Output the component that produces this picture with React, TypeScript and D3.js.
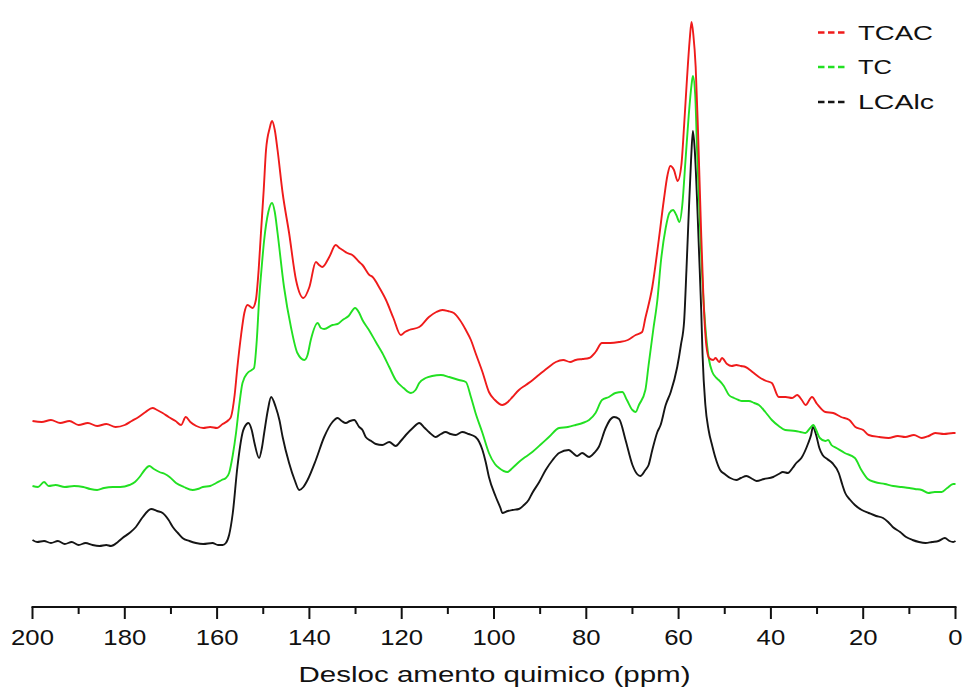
import React from "react";
import * as d3 from "d3";

// 13C CP/MAS NMR spectra, stacked: [chemical shift (ppm), intensity (a.u.)]
const tcac: [number, number][] = [
  [200,186],[198,185],[196,187],[194,184],[192,186],[190,182],[188,184],[186,181],[184,183],[182,180],[180,182],[178.5,186],[177,190],[175.5,195],[174,199],[173,197],[171.8,194],[170.5,190],[169,186],[167.8,182],[166.8,190],[165.8,185],[164.5,181],[163,179],[161.5,180],[160,179],[158.8,183],[157.5,187],[157,190],[156.2,212],[155.6,240],[154.8,272],[154.1,294],[153.4,302],[152.3,299],[151.6,307],[151,337],[150.5,374],[149.9,417],[149.4,457],[148.6,479],[148.1,486],[147.5,477],[146.9,457],[145.8,414],[144.4,374],[142.9,327],[141.3,309],[140,320],[138.6,345],[137.9,342],[137.2,340],[135.7,350],[134.3,362],[133.5,359],[132.8,357],[131.8,354],[130.7,352],[129.2,345],[128.5,342],[127,332],[126.3,330],[124.8,319],[123.4,307],[121.8,289],[120.2,272],[119.3,275],[118.4,277],[116.2,280],[114.1,290],[112.5,295],[111.2,297],[110,296],[108.7,294],[107.4,287],[106.1,277],[105,267],[104,254],[102.5,235],[101.1,215],[99.8,207],[98.2,202],[97,205],[96,210],[94.6,217],[93.1,222],[91.6,227],[90.3,232],[88.4,239],[86.6,245],[85,247],[83.5,245],[82.3,247],[80.8,248],[79.4,249],[78,255],[76.6,264],[74.8,264],[72.9,265],[71,267],[69.3,272],[67.9,275],[67.2,289],[65.7,320],[64.3,367],[63.2,407],[62.4,432],[61.8,441],[61,437],[60.2,426],[59.4,442],[58.8,482],[58.2,527],[57.6,567],[57.2,585],[56.8,572],[56.3,540],[55.8,477],[55.2,387],[54.6,307],[54,262],[53.4,249],[52.5,247],[52,249],[51.2,245],[50.6,249],[49.5,243],[48.5,241],[47.5,242],[46.5,241],[45.5,240],[44,235],[42.6,230],[41,226],[39.8,224],[38.3,210],[36.8,210],[35.4,209],[34.3,212],[33.3,207],[32.5,202],[31.1,210],[30,203],[28.2,195],[26.5,194],[24.8,190],[23,187],[21.7,180],[20,177],[18.8,172],[16.5,170],[14.5,169],[12.5,171],[10.9,170],[9,172],[7.3,169],[5.8,171],[4.4,174],[2.5,173],[0.5,174],[0,174],
];

const tc: [number, number][] = [
  [200,121],[198.8,120],[197.5,125],[196.5,121],[195,122],[193,120],[191,121],[189,120],[187.5,118],[186,117],[184.5,119],[182.6,120],[181,120],[179,122],[177.8,125],[176.8,130],[175.7,137],[174.7,141],[173.7,138],[172.5,135],[171.3,133],[170.3,130],[168.9,124],[167.2,120],[165.3,117],[164.2,118],[163.1,120],[161.5,121],[160.2,124],[159,127],[158.1,129],[157.4,134],[156.6,152],[155.9,174],[155.2,202],[154.5,224],[153.4,234],[152.5,237],[152,239],[151.4,267],[150.9,307],[150.3,342],[149.8,367],[148.9,395],[148.1,404],[147.5,395],[146.9,374],[145.5,320],[144,280],[142.6,254],[141.1,247],[140.4,252],[139.7,267],[138.2,284],[137.5,279],[136.8,278],[135,282],[133.9,283],[132.8,287],[131.5,291],[130.1,299],[129.2,294],[128.5,287],[127.1,277],[125.6,265],[124.2,254],[122.7,240],[121.3,227],[119.6,219],[118,214],[117,217],[116.2,224],[114.8,229],[113.4,231],[111.5,232],[109.7,230],[107.6,227],[106.1,225],[105,210],[104,194],[102.5,174],[101.1,154],[99.8,143],[98.9,139],[97.1,135],[96,139],[94.6,145],[93.2,150],[91.7,155],[90,162],[88.1,170],[85.9,179],[84,180],[82.3,182],[80.8,184],[79.4,187],[78,194],[76.6,207],[75.1,210],[73.7,214],[72.2,215],[71.2,207],[70,197],[69.3,195],[68.6,202],[67.2,217],[66.5,242],[65.5,277],[64.6,307],[63.8,347],[62.8,379],[62,394],[61.2,397],[60.5,392],[59.8,385],[59.2,402],[58.5,447],[57.8,492],[57.2,522],[56.9,531],[56.4,512],[56,457],[55.3,374],[54.8,322],[54.2,280],[53.4,247],[52.7,235],[51.8,229],[51.3,227],[50.2,221],[49.1,212],[48,209],[47,207],[46.3,206],[44.8,206],[43.6,204],[42.6,202],[41.2,195],[39.8,187],[38.3,181],[36.9,177],[34.7,176],[33.6,175],[32.5,174],[31.5,179],[30.8,182],[30.2,177],[29.4,169],[28.2,166],[27.6,167],[26.9,162],[25.8,159],[24,154],[21.8,149],[20.4,137],[19,128],[17.5,125],[15.3,123],[13.5,121],[11.7,120],[10,119],[8.8,118],[7.3,117],[5.9,114],[4.5,115],[3,115],[1.8,119],[0.5,123],[0,123],
];

const lcalc: [number, number][] = [
  [200,67],[199,65],[197.5,66],[196,64],[194.5,66],[193,63],[191.5,65],[190,62],[188.5,64],[187,62],[185.5,61],[184,62],[183,61],[181.5,65],[180.5,69],[179,74],[177.6,80],[176.1,90],[175,96],[174.3,98],[173,96],[171.8,94],[170.5,87],[169.6,80],[168.5,74],[167.5,69],[166,66],[164.6,64],[163,63],[161,64],[159.8,62],[158.8,62],[158.1,64],[157.4,72],[156.6,94],[155.6,140],[154.5,174],[153.6,183],[153.2,184],[152.5,177],[151.9,164],[150.9,149],[150.3,159],[149.8,174],[149,197],[148.3,210],[147.3,200],[146.5,187],[145.8,170],[144.4,144],[143.2,127],[142.2,117],[141.3,120],[140.4,127],[138.6,147],[136.8,170],[135,185],[133.9,189],[133,186],[132.1,184],[131.2,186],[130.3,187],[129.2,180],[128.5,177],[127.8,170],[126.6,166],[125.6,163],[124.2,162],[122.7,165],[121.3,161],[120.2,166],[119.1,172],[117.6,179],[116.2,184],[115,179],[114.1,175],[112.6,170],[111.5,173],[110.5,175],[109.4,173],[108.3,172],[106.9,175],[105.5,173],[104,170],[103.2,165],[102.5,157],[101.8,145],[101.1,130],[99.6,110],[98.6,99],[98.2,94],[97,96],[96,97],[94.6,98],[93.5,102],[92.5,107],[91.7,114],[90.2,125],[88.8,137],[87.3,147],[85.9,154],[83.8,157],[82.9,154],[82,151],[80.9,154],[79.4,150],[78.3,154],[77.3,160],[75.8,179],[74.7,188],[74,190],[72.9,188],[71.5,167],[70,142],[69,133],[68.3,131],[67.2,137],[66.5,142],[65.7,157],[64.6,175],[63.9,182],[62.8,202],[61.7,215],[60.3,240],[59.5,262],[58.8,286],[58.3,337],[57.8,394],[57.3,447],[56.9,476],[56.5,457],[56,407],[55.6,358],[55.1,297],[54.8,251],[54.2,202],[53.5,177],[52.7,161],[52,149],[51,137],[50,133],[48.8,129],[47.5,127],[46.5,129],[45.3,131],[44,128],[43.1,126],[41.5,128],[39.5,130],[38.3,133],[37.4,135],[36.3,134],[35.3,139],[34.5,144],[33.4,149],[31.9,164],[31.3,172],[30.9,180],[30.2,172],[29.5,159],[28.8,152],[27.8,148],[26.7,144],[25.3,134],[24.5,122],[23.9,114],[22.8,107],[21.8,102],[20.3,97],[18.8,94],[17.2,91],[15.7,89],[14.6,85],[13.6,80],[12,75],[10.7,70],[9.3,67],[7.9,65],[6.5,64],[5.1,65],[3.7,66],[2.3,69],[1.3,66],[0.5,65],[0,66],
];

const seriesNames = ["TCAC", "TC", "LCAlc"];
const seriesColors = ["#ef1b1b", "#22e022", "#151515"];
const majorTicks = [200, 180, 160, 140, 120, 100, 80, 60, 40, 20, 0];
const minorTicks = [190, 170, 150, 130, 110, 90, 70, 50, 30, 10];
const xTitle = "Desloc amento quimico (ppm)";

const W = 964;
const H = 688;
const FONT = "'Liberation Sans', Arial, Helvetica, sans-serif";

export default function App() {
  const x = d3.scaleLinear().domain([200, 0]).range([32.5, 955.5]);
  const y = d3.scaleLinear().domain([0, 600]).range([607, 7]);
  const axisY = y(0);

  const line = d3
    .line<[number, number]>()
    .x((d) => x(d[0]))
    .y((d) => y(d[1]))
    .curve(d3.curveMonotoneX);

  const data = [tcac, tc, lcalc];
  const legendBaselines = [39.5, 74, 109];
  const legendWidths = [75, 34, 76];

  return (
    <svg
      width={W}
      height={H}
      viewBox={`0 0 ${W} ${H}`}
      style={{ position: "fixed", left: 0, top: 0, background: "#fff" }}
    >
      <rect width={W} height={H} fill="#fff" />

      {/* spectra, drawn bottom trace first */}
      {data
        .map((d, i) => (
          <path
            key={seriesNames[i]}
            d={line(d) || ""}
            fill="none"
            stroke={seriesColors[i]}
            strokeWidth={1.9}
            strokeLinejoin="round"
          />
        ))
        .reverse()}

      {/* x axis */}
      <line x1={x(200) - 1} x2={x(0) + 1} y1={axisY} y2={axisY} stroke="#111" strokeWidth={2} />
      {majorTicks.map((t) => (
        <line key={`M${t}`} x1={x(t)} x2={x(t)} y1={axisY} y2={axisY + 12} stroke="#111" strokeWidth={2} />
      ))}
      {minorTicks.map((t) => (
        <line key={`m${t}`} x1={x(t)} x2={x(t)} y1={axisY} y2={axisY + 7} stroke="#111" strokeWidth={2} />
      ))}
      {majorTicks.map((t) => {
        const label = String(t);
        return (
          <text
            key={`L${t}`}
            x={x(t)}
            y={645}
            textAnchor="middle"
            fontFamily={FONT}
            fontSize={22}
            fill="#111"
            textLength={label.length * 14.3}
            lengthAdjust="spacingAndGlyphs"
          >
            {label}
          </text>
        );
      })}
      <text
        x={494.5}
        y={681.5}
        textAnchor="middle"
        fontFamily={FONT}
        fontSize={22.5}
        fill="#111"
        textLength={392}
        lengthAdjust="spacingAndGlyphs"
      >
        {xTitle}
      </text>

      {/* legend */}
      {seriesNames.map((name, i) => (
        <g key={`lg${name}`}>
          <line
            x1={818}
            x2={846}
            y1={legendBaselines[i] - 7}
            y2={legendBaselines[i] - 7}
            stroke={seriesColors[i]}
            strokeWidth={2.6}
            strokeDasharray="6.5,3.5"
          />
          <text
            x={858}
            y={legendBaselines[i]}
            fontFamily={FONT}
            fontSize={20.5}
            fill="#111"
            textLength={legendWidths[i]}
            lengthAdjust="spacingAndGlyphs"
          >
            {name}
          </text>
        </g>
      ))}
    </svg>
  );
}
